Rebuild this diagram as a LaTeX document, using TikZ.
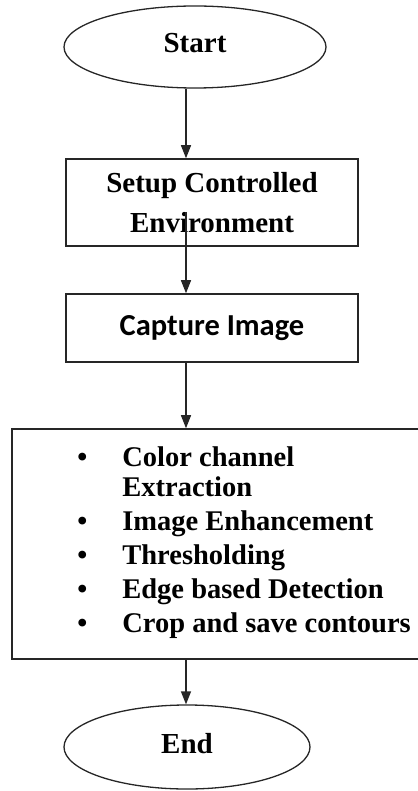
\documentclass[tikz,border=0pt]{standalone}
\usepackage{fontspec}
\setmainfont{Liberation Serif}
\newfontfamily\calibrifont{Carlito}
\usetikzlibrary{arrows.meta,positioning,shapes.geometric,calc}

\begin{document}
\begin{tikzpicture}[
    x=1pt, y=-1pt,
    term/.style={draw=black!85, ellipse, line width=1.3pt, inner sep=0pt, text depth=8pt,
                 font=\fontsize{29}{34}\selectfont\bfseries},
    proc/.style={draw=black!85, line width=1.6pt, inner sep=0pt, align=center,
                 font=\fontsize{29}{40}\selectfont\bfseries},
    list/.style={inner sep=0pt, align=left, font=\fontsize{28.5}{34}\selectfont\bfseries},
    arr/.style={-{Triangle[length=13pt,width=10pt]}, line width=1.3pt, draw=black!85}
]
\useasboundingbox (0,0) rectangle (417,791);

% terminals
\node[term, minimum width=262pt, minimum height=82pt] (start) at (195,47) {Start};
\node[term, minimum width=246pt, minimum height=84pt] (end) at (187,747) {End};

% process boxes
\node[proc, minimum width=292pt, minimum height=87pt] (setup) at (212,202.5) {Setup Controlled\\Environment};
\node[proc, minimum width=292pt, minimum height=68pt, font=\fontsize{30.5}{36}\selectfont\calibrifont\bfseries]
    (capture) at (212,328) {Capture Image};
\node[proc, minimum width=407pt, minimum height=230pt] (steps) at (215.5,544) {};
\node[list, anchor=north west] (steplist) at ($(steps.north west)+(66,18)$) {%
    \makebox[45pt][l]{\textbullet}Color channel\\[-4pt]
    \hspace*{45pt}Extraction\\
    \makebox[45pt][l]{\textbullet}Image Enhancement\\
    \makebox[45pt][l]{\textbullet}Thresholding\\
    \makebox[45pt][l]{\textbullet}Edge based Detection\\
    \makebox[45pt][l]{\textbullet}Crop and save contours};

% connectors, all on one column
\coordinate (col) at (186,0);
\coordinate (envmid) at (186,212);
\draw[arr] (start.south -| col) -- (setup.north -| col);
\draw[arr] (envmid) -- (capture.north -| col);
\draw[arr] (capture.south -| col) -- (steps.north -| col);
\draw[arr] (steps.south -| col) -- (end.north -| col);
\end{tikzpicture}
\end{document}
